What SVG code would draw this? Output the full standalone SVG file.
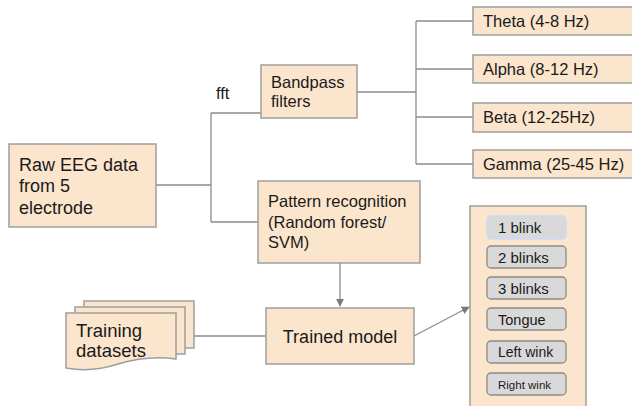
<svg xmlns="http://www.w3.org/2000/svg" width="632" height="406" viewBox="0 0 632 406">
<defs>
<style>
.box{fill:#fce5cd;stroke:#9e9e9e;stroke-width:1.5}
.btn{fill:#d9d9d9;stroke:#8a8a8a;stroke-width:1.3}
.ln{fill:none;stroke:#8c8c8c;stroke-width:1.3}
text{font-family:"Liberation Sans",Arial,sans-serif;fill:#1a1a1a}
.t18{font-size:18px}
.t16{font-size:16.5px}
.t15{font-size:16.5px}
.b15{font-size:15px}
</style>
<marker id="ah" viewBox="0 0 10 10" refX="9" refY="5" markerWidth="8" markerHeight="8" markerUnits="userSpaceOnUse" orient="auto">
<path d="M0,0 L10,5 L0,10 Z" fill="#7a7a7a"/>
</marker>
</defs>
<rect width="632" height="406" fill="#ffffff"/>
<g id="connectors">
<path class="ln" d="M156,185 H211 M211,113 V222 M211,113 H261 M211,222 H258"/>
<path class="ln" d="M357,92 H416 M416,21 V164 M416,21 H473 M416,69 H473 M416,117 H473 M416,164 H473"/>
<path class="ln" d="M340,263 V306" marker-end="url(#ah)"/>
<path class="ln" d="M194,336 H266"/>
<path class="ln" d="M414,336 L469,307" marker-end="url(#ah)"/>
<text x="216" y="99" class="t16">fft</text>
</g>
<g id="raw">
<rect class="box" x="9" y="144" width="147" height="83"/>
<text class="t18" x="19" y="171">Raw EEG data</text>
<text class="t18" x="19" y="192">from 5</text>
<text class="t18" x="19" y="214">electrode</text>
</g>
<g id="bandpass">
<rect class="box" x="261" y="65" width="96" height="53"/>
<text class="t16" x="271" y="88">Bandpass</text>
<text class="t16" x="271" y="107">filters</text>
</g>
<g id="theta">
<rect class="box" x="473" y="7" width="170" height="28"/>
<text class="t15" x="483" y="27">Theta (4-8 Hz)</text>
</g>
<g id="alpha">
<rect class="box" x="473" y="55" width="170" height="28"/>
<text class="t15" x="483" y="75">Alpha (8-12 Hz)</text>
</g>
<g id="beta">
<rect class="box" x="473" y="103" width="170" height="29"/>
<text class="t15" x="483" y="123">Beta (12-25Hz)</text>
</g>
<g id="gamma">
<rect class="box" x="473" y="150" width="170" height="28"/>
<text class="t15" x="483" y="170">Gamma (25-45 Hz)</text>
</g>
<g id="pattern">
<rect class="box" x="258" y="181" width="162" height="82"/>
<text class="t16" x="268" y="207">Pattern recognition</text>
<text class="t16" x="268" y="228">(Random forest/</text>
<text class="t16" x="268" y="248">SVM)</text>
</g>
<g id="trained">
<rect class="box" x="266" y="308" width="148" height="56"/>
<text class="t18" x="340" y="343" text-anchor="middle">Trained model</text>
</g>
<g id="training">
<rect class="box" x="84" y="301" width="110" height="47"/>
<rect class="box" x="75" y="307" width="110" height="47"/>
<path class="box" d="M66,313 H176 V359 C156,356 138,358 118,364 C100,370 82,371 66,368 Z"/>
<text x="76" y="337" style="font-size:18.5px">Training</text>
<text x="76" y="357" style="font-size:18.5px">datasets</text>
</g>
<g id="gestures">
<rect class="box" x="470" y="206" width="116" height="210"/>
<rect x="487" y="216" width="79" height="23" rx="4" fill="#d9d9d9" stroke="#c9daf8" stroke-width="1.3"/>
<text class="b15" x="498" y="233">1 blink</text>
<rect class="btn" x="487" y="246" width="79" height="22" rx="4"/>
<text class="b15" x="498" y="263">2 blinks</text>
<rect class="btn" x="487" y="277" width="79" height="22" rx="4"/>
<text class="b15" x="498" y="294">3 blinks</text>
<rect class="btn" x="487" y="308" width="79" height="22" rx="4"/>
<text x="498" y="325" style="font-size:14.5px">Tongue</text>
<rect class="btn" x="487" y="341" width="79" height="22" rx="4"/>
<text x="498" y="357" style="font-size:14px">Left wink</text>
<rect class="btn" x="487" y="373" width="79" height="22" rx="4"/>
<text x="498" y="389" style="font-size:11.5px">Right wink</text>
</g>
</svg>
